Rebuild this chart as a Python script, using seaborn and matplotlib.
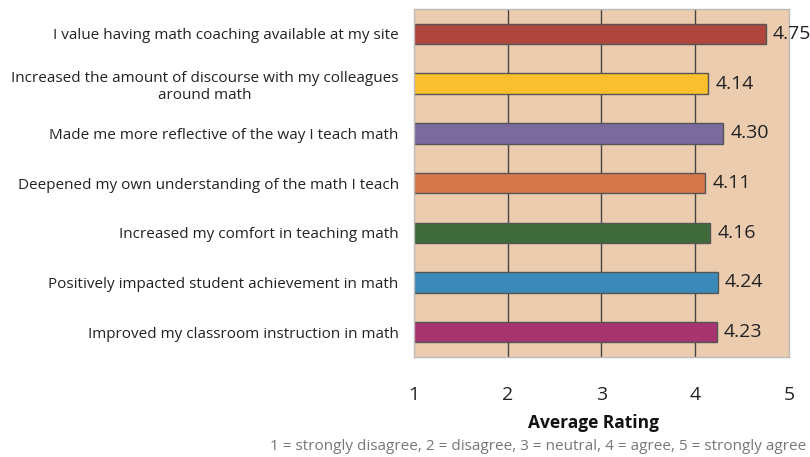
import matplotlib
matplotlib.use("Agg")
import matplotlib.pyplot as plt
import seaborn as sns
import pandas as pd

categories = [
    "I value having math coaching available at my site",
    "Increased the amount of discourse with my colleagues\naround math",
    "Made me more reflective of the way I teach math",
    "Deepened my own understanding of the math I teach",
    "Increased my comfort in teaching math",
    "Positively impacted student achievement in math",
    "Improved my classroom instruction in math",
]
values = [4.75, 4.14, 4.30, 4.11, 4.16, 4.24, 4.23]
colors = ["#B0453E", "#F9BF2C", "#7A6A9E", "#D6774A", "#3F6B3B", "#3A89B8", "#A7336F"]
xticks = [1, 2, 3, 4, 5]

sns.set_theme(style="white")
plt.rcParams["font.family"] = ["Open Sans", "DejaVu Sans"]

df = pd.DataFrame({"item": categories, "rating": values})

fig = plt.figure(figsize=(8.1, 4.57), dpi=100)
ax = fig.add_axes([0.511, 0.219, 0.463, 0.761])
ax.set_facecolor("#EBCCAF")

sns.barplot(data=df, y="item", x="rating", hue="item", palette=colors,
            legend=False, orient="h", width=0.41, ax=ax,
            edgecolor="#555555", linewidth=1.0, saturation=1)

ax.set_xlim(1, 5)
ax.set_ylim(6.5, -0.5)
ax.set_xticks(xticks)
ax.set_xticklabels([str(t) for t in xticks], fontsize=14, color="#222222")
ax.tick_params(axis="x", length=0, pad=21)
ax.tick_params(axis="y", length=0, pad=11)
for lab in ax.get_yticklabels():
    lab.set_fontsize(11)
    lab.set_color("#222222")
    lab.set_multialignment("center")

ax.set_axisbelow(True)
for g in [2, 3, 4]:
    ax.axvline(g, color="#444444", lw=1.0, zorder=0.5)

for s in ax.spines.values():
    s.set_color("#BBBBBB")
    s.set_linewidth(1.0)

for cont in ax.containers:
    texts = ax.bar_label(cont, fmt="%.2f", padding=5, fontsize=14, color="#222222",
                         clip_on=False)
    for t in texts:
        t.set_va("top")
        t.set_y(t.get_position()[1])
        t.set_va("center")
        t.set_transform(t.get_transform() + matplotlib.transforms.ScaledTranslation(0, -2 / 100, fig.dpi_scale_trans))

ax.set_ylabel("")
ax.set_xlabel("Average Rating", fontsize=12.5, fontweight="bold", color="#111111")
ax.xaxis.set_label_coords(0.4776, -0.165)

fig.text(0.664, 0.022, "1 = strongly disagree, 2 = disagree, 3 = neutral, 4 = agree, 5 = strongly agree",
         ha="center", va="center", fontsize=11, color="#777777")

fig.savefig("out.png", dpi=100, facecolor="white")
